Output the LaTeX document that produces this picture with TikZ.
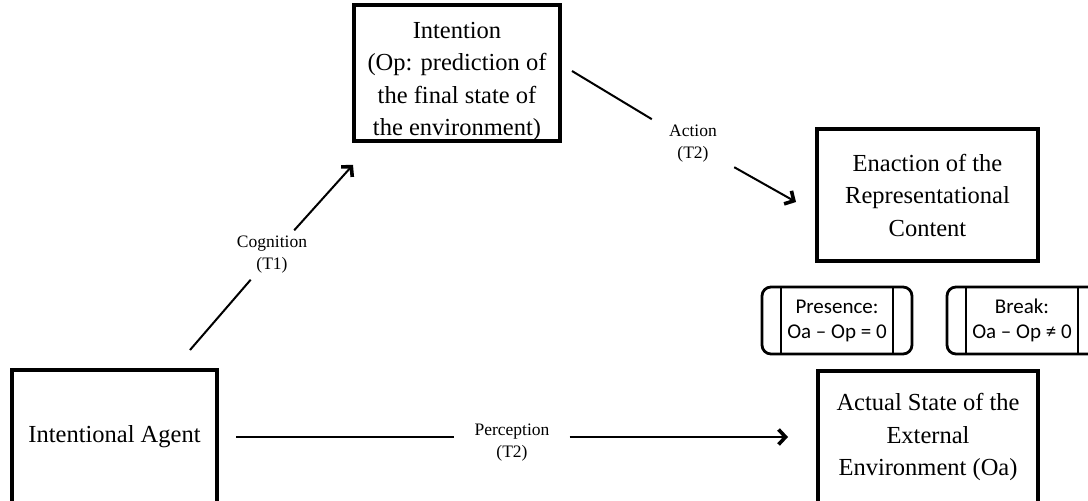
\documentclass[tikz,border=0pt]{standalone}
\usepackage{fontspec}
\setmainfont{Liberation Serif}
\newfontfamily\calib{Carlito}
\usetikzlibrary{arrows.meta,calc}
\begin{document}
\begin{tikzpicture}[x=1pt,y=-1pt,
  bigbox/.style={draw,line width=4pt,inner sep=0pt,align=center,
    font=\fontsize{24.5}{32.5}\selectfont},
  lbl/.style={inner sep=0pt,align=center,font=\fontsize{17.5}{22}\selectfont},
  conn/.style={line width=2pt},
  arr/.style={line width=2pt,-{Straight Barb[length=7pt,width=15pt,line width=3.6pt]}},
  proc/.style={draw,line width=2.8pt,rounded corners=9pt,minimum width=150pt,
    minimum height=67pt,inner sep=0pt,align=center,
    font=\calib\fontsize{21}{25}\selectfont,
    path picture={
      \draw[line width=1.5pt] ($(path picture bounding box.north west)+(19,0)$) -- ($(path picture bounding box.south west)+(19,0)$);
      \draw[line width=1.5pt] ($(path picture bounding box.north east)+(-19,0)$) -- ($(path picture bounding box.south east)+(-19,0)$);
    }}]
\useasboundingbox (0,0) rectangle (1088,501);
\clip (0,0) rectangle (1088,501);
\fill[white] (0,0) rectangle (1088,501);

\node[bigbox,minimum width=205pt,minimum height=134pt] (agent) at (114.5,437) {Intentional Agent};
\node[bigbox,minimum width=206pt,minimum height=130pt] (intention) at (457,73)
  {\rule{0pt}{33pt}Intention\\(Op: prediction of\\the final state of\\the environment)};
\node[bigbox,minimum width=221pt,minimum height=132pt] (enaction) at (927.5,195)
  {Enaction of the\\Representational\\Content};
\node[bigbox,minimum width=220pt,minimum height=132pt] (actual) at (928,437)
  {Actual State of the\\External\\Environment (Oa)};

\node[proc] (presence) at (837,320.5) {Presence:\\Oa – Op = 0};
\node[proc] (break) at (1022,320.5) {Break:\\Oa – Op ≠ 0};

\node[lbl,minimum width=72pt,minimum height=49pt] (cog) at (272,255) {Cognition\\(T1)};
\node[lbl,minimum width=82pt,minimum height=50pt] (act) at (693,144) {Action\\(T2)};
\node[lbl,minimum width=115pt,minimum height=40pt] (perc) at (512,443) {Perception\\(T2)};

\draw[conn] ($(agent.north east)+(-29,-18)$) -- (cog);
\draw[arr] (cog) -- ($(intention.south west)+(1,22)$);

\draw[conn] ($(intention.east)+(10,-2)$) -- (act);
\draw[arr] (act) -- ($(enaction.west)+(-19,7)$);

\draw[conn] ($(agent.east)+(17,0)$) -- (perc.west |- agent.east);
\draw[arr] (perc.east |- agent.east) -- ($(actual.west)+(-28,0)$);
\end{tikzpicture}
\end{document}
